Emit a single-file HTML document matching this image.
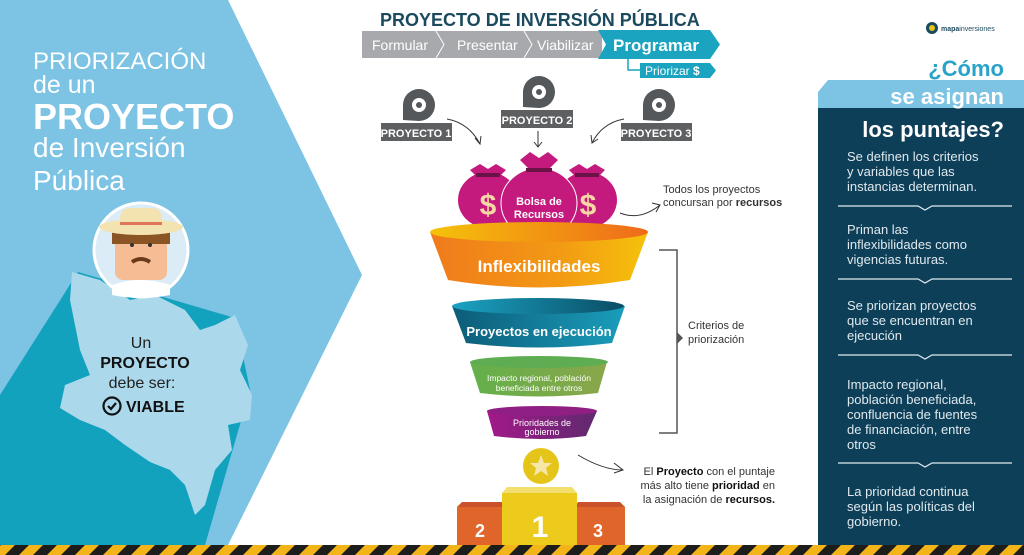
<!DOCTYPE html>
<html><head><meta charset="utf-8"><style>
html,body{margin:0;padding:0;background:#fff}
svg{display:block}
text{font-family:"Liberation Sans",sans-serif}
</style></head><body>
<svg width="1024" height="555" viewBox="0 0 1024 555" xmlns="http://www.w3.org/2000/svg">
<defs>
<linearGradient id="gOr" x1="0" x2="1"><stop offset="0" stop-color="#f07a1c"/><stop offset="0.6" stop-color="#f39a14"/><stop offset="1" stop-color="#f5c20a"/></linearGradient>
<linearGradient id="gOrT" x1="0" x2="1"><stop offset="0" stop-color="#f5c20a"/><stop offset="1" stop-color="#ef6a1a"/></linearGradient>
<linearGradient id="gTe" x1="0" x2="1"><stop offset="0" stop-color="#0c5c78"/><stop offset="1" stop-color="#1a9dbb"/></linearGradient>
<linearGradient id="gTeT" x1="0" x2="1"><stop offset="0" stop-color="#1aa3c2"/><stop offset="1" stop-color="#0b4d66"/></linearGradient>
<linearGradient id="gGr" x1="0" x2="1"><stop offset="0" stop-color="#63b04a"/><stop offset="1" stop-color="#8aa64a"/></linearGradient>
<linearGradient id="gPu" x1="0" x2="1"><stop offset="0" stop-color="#a3198a"/><stop offset="1" stop-color="#5f2a6e"/></linearGradient>
<pattern id="haz" width="28" height="10" patternUnits="userSpaceOnUse" patternTransform="skewX(-45)">
<rect width="28" height="10" fill="#f2b418"/><rect width="14" height="10" fill="#1d1d1b"/></pattern>
</defs>

<!-- left panel -->
<polygon points="0,0 228,0 362,275 228,545 0,545" fill="#7cc3e4"/>
<polygon points="0,395 78,272 235,318 250,390 205,545 0,545" fill="#12a2bd"/>
<polygon points="72,272 100,280 130,300 155,295 185,310 200,330 215,325 235,315 248,345 240,370 252,395 250,420 228,425 232,450 215,470 205,505 195,515 185,485 170,470 150,462 125,445 105,430 80,420 60,408 65,385 90,375 80,350 75,325 70,300" fill="#acd8ec"/>
<text x="33" y="69" fill="#fff" font-size="24">PRIORIZACIÓN</text>
<text x="33" y="93" fill="#fff" font-size="25">de un</text>
<text x="33" y="129" fill="#fff" font-size="36" font-weight="bold">PROYECTO</text>
<text x="33" y="157" fill="#fff" font-size="28">de Inversión</text>
<text x="33" y="190" fill="#fff" font-size="28">Pública</text>
<!-- avatar -->
<circle cx="141" cy="250" r="47" fill="#dcecf6" stroke="#fff" stroke-width="3"/>
<rect x="115" y="235" width="52" height="45" rx="8" fill="#f6bd95"/>
<rect x="112" y="228" width="58" height="16" fill="#8a5424"/>
<ellipse cx="141" cy="227" rx="42" ry="8" fill="#f3e3b0"/>
<rect x="120" y="208" width="42" height="22" rx="10" fill="#f3e3b0"/>
<rect x="120" y="222" width="42" height="3" fill="#e0765a"/>
<circle cx="132" cy="245" r="2" fill="#333"/><circle cx="150" cy="245" r="2" fill="#333"/>
<path d="M132 262 q9-6 18 0" stroke="#6b3a1a" stroke-width="4" fill="none"/>
<path d="M112 285 q29-10 58 0 l0 10 q-29 6 -58 0z" fill="#fff"/>
<text x="141" y="348" text-anchor="middle" fill="#222" font-size="16">Un</text>
<text x="145" y="368" text-anchor="middle" fill="#111" font-size="16" font-weight="bold">PROYECTO</text>
<text x="142" y="388" text-anchor="middle" fill="#222" font-size="16">debe ser:</text>
<circle cx="112" cy="406" r="8.5" fill="none" stroke="#111" stroke-width="2.2"/>
<path d="M108 406 l3 3 l5 -6" stroke="#111" stroke-width="2.2" fill="none"/>
<text x="126" y="412" fill="#111" font-size="16" font-weight="bold">VIABLE</text>

<!-- title -->
<text x="380" y="26" fill="#1b4a5e" font-size="18" font-weight="bold">PROYECTO DE INVERSIÓN PÚBLICA</text>
<rect x="362" y="31" width="240" height="27" fill="#a7a9ac"/>
<polyline points="436,31 444,44.5 436,58" fill="none" stroke="#fff" stroke-width="1"/>
<polyline points="524,31 532,44.5 524,58" fill="none" stroke="#fff" stroke-width="1"/>
<text x="372" y="50" fill="#fff" font-size="14">Formular</text>
<text x="457" y="50" fill="#fff" font-size="14">Presentar</text>
<text x="537" y="50" fill="#fff" font-size="14">Viabilizar</text>
<polygon points="598,30 710,30 720,44.5 710,59 598,59 606,44.5" fill="#1aa4c0"/>
<text x="613" y="51" fill="#fff" font-size="17" font-weight="bold">Programar</text>
<polyline points="628,59 628,70 640,70" fill="none" stroke="#1aa4c0" stroke-width="1.5"/>
<polygon points="640,63 710,63 716,70.5 710,78 640,78" fill="#1aa4c0"/>
<text x="645" y="75" fill="#fff" font-size="12">Priorizar <tspan font-weight="bold">$</tspan></text>

<!-- projects -->
<g fill="#55585a">
<path d="M403 120 v-15 a16 16 0 1 1 16 16z"/>
<path d="M523 107 v-15 a16 16 0 1 1 16 16z"/>
<path d="M643 120 v-15 a16 16 0 1 1 16 16z"/>
</g>
<g fill="#fff">
<circle cx="419" cy="105" r="7"/><circle cx="539" cy="92" r="7"/><circle cx="659" cy="105" r="7"/>
</g>
<g fill="#55585a"><circle cx="419" cy="105" r="3"/><circle cx="539" cy="92" r="3"/><circle cx="659" cy="105" r="3"/></g>
<rect x="381" y="123" width="71" height="18" fill="#5d5f61"/>
<rect x="501" y="110" width="72" height="18" fill="#5d5f61"/>
<rect x="621" y="123" width="71" height="18" fill="#5d5f61"/>
<text x="416" y="137" text-anchor="middle" fill="#fff" font-size="11" font-weight="bold">PROYECTO 1</text>
<text x="537" y="124" text-anchor="middle" fill="#fff" font-size="11" font-weight="bold">PROYECTO 2</text>
<text x="656" y="137" text-anchor="middle" fill="#fff" font-size="11" font-weight="bold">PROYECTO 3</text>
<g fill="none" stroke="#333" stroke-width="1">
<path d="M447 119 q22 4 33 25"/><path d="M475 138 l5 6 l1 -8"/>
<path d="M538 131 v16"/><path d="M534 142 l4 5 l4 -5"/>
<path d="M624 119 q-22 4 -32 24"/><path d="M591 135 l1 8 l6 -4"/>
<path d="M620 213 q20 8 40 -8"/><path d="M652 203 l8 2 l-4 7"/>
<path d="M578 455 q25 15 45 15"/><path d="M614 463 l9 7 l-9 3"/>
</g>
<!-- bags -->
<g fill="#c4197d">
<ellipse cx="488" cy="200" rx="30" ry="28"/><path d="M470 170 l8 8 h20 l8 -8 l-10 -6 -8 5 -8 -5z"/>
<ellipse cx="587" cy="200" rx="30" ry="28"/><path d="M569 170 l8 8 h20 l8 -8 l-10 -6 -8 5 -8 -5z"/>
</g>
<rect x="476" y="173" width="24" height="4" fill="#6b1346"/><rect x="575" y="173" width="24" height="4" fill="#6b1346"/>
<text x="488" y="215" text-anchor="middle" fill="#f6d6a4" font-size="30" font-weight="bold">$</text>
<text x="588" y="215" text-anchor="middle" fill="#f6d6a4" font-size="30" font-weight="bold">$</text>
<ellipse cx="539" cy="203" rx="38" ry="35" fill="#c4197d" stroke="#fff" stroke-width="1"/>
<path d="M520 160 l10 10 h18 l10 -10 l-10 -8 -9 6 -9 -6z" fill="#c4197d"/>
<rect x="526" y="168" width="26" height="4" fill="#6b1346"/>
<text x="539" y="205" text-anchor="middle" fill="#fff" font-size="11" font-weight="bold">Bolsa de</text>
<text x="539" y="218" text-anchor="middle" fill="#fff" font-size="11" font-weight="bold">Recursos</text>
<text x="663" y="193" fill="#333" font-size="11">Todos los proyectos</text>
<text x="663" y="206" fill="#333" font-size="11">concursan por <tspan font-weight="bold">recursos</tspan></text>

<!-- funnel -->
<path d="M430 232 L448 280 Q539 295 630 280 L648 232 Z" fill="url(#gOr)"/>
<ellipse cx="539" cy="232" rx="109" ry="10" fill="url(#gOrT)"/>
<text x="539" y="272" text-anchor="middle" fill="#fff" font-size="17" font-weight="bold">Inflexibilidades</text>
<path d="M452 306 L466 343 Q539 352 612 343 L625 306 Z" fill="url(#gTe)"/>
<ellipse cx="538" cy="306" rx="86" ry="8" fill="url(#gTeT)"/>
<text x="539" y="336" text-anchor="middle" fill="#fff" font-size="13" font-weight="bold">Proyectos en ejecución</text>
<path d="M470 362 L480 393 Q539 400 598 393 L607 362 Z" fill="url(#gGr)"/>
<ellipse cx="539" cy="362" rx="69" ry="6" fill="#5fad52"/>
<text x="539" y="381" text-anchor="middle" fill="#fff" font-size="8.5">Impacto regional, población</text>
<text x="539" y="391" text-anchor="middle" fill="#fff" font-size="8.5">beneficiada entre otros</text>
<path d="M487 411 L494 436 Q540 442 586 436 L597 411 Z" fill="url(#gPu)"/>
<ellipse cx="542" cy="411" rx="55" ry="5" fill="#8f1f83"/>
<text x="542" y="426" text-anchor="middle" fill="#fff" font-size="9">Prioridades de</text>
<text x="542" y="435" text-anchor="middle" fill="#fff" font-size="9">gobierno</text>
<polyline points="659,250 677,250 677,433 659,433" fill="none" stroke="#555" stroke-width="1.5"/>
<polygon points="677,332 683,338 677,344" fill="#555"/>
<text x="688" y="329" fill="#333" font-size="11">Criterios de</text>
<text x="688" y="343" fill="#333" font-size="11">priorización</text>

<circle cx="541" cy="466" r="18" fill="#e6c51a"/>
<polygon points="541,455 544,463 552,463 546,468 548,476 541,471 534,476 536,468 530,463 538,463" fill="#f6e7a8"/>
<rect x="457" y="507" width="48" height="38" fill="#e0652a"/><polygon points="457,507 505,507 502,502 462,502" fill="#c9522a"/>
<rect x="575" y="507" width="50" height="38" fill="#e0652a"/><polygon points="575,507 625,507 620,502 578,502" fill="#c9522a"/>
<rect x="502" y="493" width="75" height="52" fill="#eccb1c"/><polygon points="502,493 577,493 572,487 507,487" fill="#f3df6e"/>
<text x="480" y="537" text-anchor="middle" fill="#fff" font-size="18" font-weight="bold">2</text>
<text x="540" y="537" text-anchor="middle" fill="#fff" font-size="30" font-weight="bold">1</text>
<text x="598" y="537" text-anchor="middle" fill="#fff" font-size="18" font-weight="bold">3</text>
<text x="775" y="475" text-anchor="end" fill="#333" font-size="11">El <tspan font-weight="bold" fill="#111">Proyecto</tspan> con el puntaje</text>
<text x="775" y="489" text-anchor="end" fill="#333" font-size="11">más alto tiene <tspan font-weight="bold" fill="#111">prioridad</tspan> en</text>
<text x="775" y="503" text-anchor="end" fill="#333" font-size="11">la asignación de <tspan font-weight="bold" fill="#111">recursos.</tspan></text>

<!-- right panel -->
<circle cx="932" cy="28" r="6" fill="#1b4a5e"/><circle cx="932" cy="28" r="3" fill="#e6c51a"/>
<text x="941" y="31" fill="#1b4a5e" font-size="7"><tspan font-weight="bold">mapa</tspan>inversiones</text>
<polygon points="828,80 1024,80 1024,108 818,108 818,92" fill="#7cc3e4"/>
<text x="1004" y="76" text-anchor="end" fill="#29a3c8" font-size="22" font-weight="bold">¿Cómo</text>
<rect x="818" y="108" width="206" height="437" fill="#0e3f58"/>
<text x="1004" y="104" text-anchor="end" fill="#fff" font-size="22" font-weight="bold">se asignan</text>
<text x="1004" y="137" text-anchor="end" fill="#fff" font-size="22" font-weight="bold">los puntajes?</text>
<g fill="#dfe9ee" font-size="13">
<text x="847" y="161">Se definen los criterios</text>
<text x="847" y="176">y variables que las</text>
<text x="847" y="191">instancias determinan.</text>
<text x="847" y="234">Priman las</text>
<text x="847" y="249">inflexibilidades como</text>
<text x="847" y="264">vigencias futuras.</text>
<text x="847" y="310">Se priorizan proyectos</text>
<text x="847" y="325">que se encuentran en</text>
<text x="847" y="340">ejecución</text>
<text x="847" y="389">Impacto regional,</text>
<text x="847" y="404">población beneficiada,</text>
<text x="847" y="419">confluencia de fuentes</text>
<text x="847" y="434">de financiación, entre</text>
<text x="847" y="449">otros</text>
<text x="847" y="496">La prioridad continua</text>
<text x="847" y="511">según las políticas del</text>
<text x="847" y="526">gobierno.</text>
</g>
<g fill="none" stroke="#dfe9ee" stroke-width="1.2">
<polyline points="838,206 918,206 925,210 932,206 1012,206"/>
<polyline points="838,279 918,279 925,283 932,279 1012,279"/>
<polyline points="838,355 918,355 925,359 932,355 1012,355"/>
<polyline points="838,463 918,463 925,467 932,463 1012,463"/>
</g>

<rect x="0" y="545" width="1024" height="10" fill="url(#haz)"/>
</svg>
</body></html>
